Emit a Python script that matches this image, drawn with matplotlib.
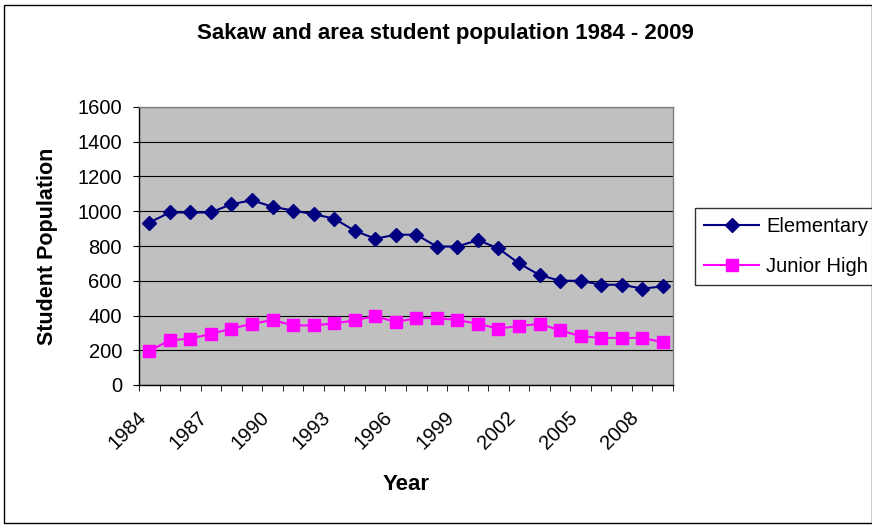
import matplotlib
matplotlib.use("Agg")
import matplotlib.pyplot as plt
from matplotlib.patches import Rectangle
from matplotlib.transforms import ScaledTranslation

plt.rcParams['font.family'] = ['Liberation Sans', 'DejaVu Sans']

years = list(range(1984, 2010))
elementary = [935, 993, 993, 993, 1041, 1063, 1026, 1004, 983, 958, 888, 842, 865,
              865, 797, 797, 834, 786, 700, 633, 600, 600, 577, 577, 555, 567]
junior_high = [197, 257, 267, 294, 325, 352, 374, 343, 343, 354, 372, 397, 362,
               385, 385, 374, 352, 325, 339, 352, 315, 281, 271, 271, 271, 246]
label_years = [1984, 1987, 1990, 1993, 1996, 1999, 2002, 2005, 2008]
y_ticks = [0, 200, 400, 600, 800, 1000, 1200, 1400, 1600]

W, H = 872, 527
fig = plt.figure(figsize=(W / 100, H / 100), dpi=100)
fig.patch.set_facecolor('white')
fig.patches.append(Rectangle((4 / W, 1 - 523 / H), 868 / W, 518 / H, transform=fig.transFigure,
                             fill=False, edgecolor='black', linewidth=1.0))

ax = fig.add_axes([139 / W, 1 - 385 / H, 534 / W, 278 / H])
ax.set_facecolor('#C0C0C0')
x = list(range(len(years)))

ax.plot(x, elementary, color='#000080', marker='D', markersize=7.2, linewidth=1.5, label='Elementary', zorder=3)
ax.plot(x, junior_high, color='#FF00FF', marker='s', markersize=8.5, linewidth=1.5, label='Junior High', zorder=3)

ax.set_xlim(-0.5, len(years) - 0.5)
ax.set_ylim(0, 1600)
ax.set_yticks(y_ticks)
ax.set_yticklabels([str(v) for v in y_ticks], fontsize=14.5)
ax.yaxis.grid(True, color='#000000', linewidth=0.8)
ax.set_axisbelow(True)

major = [years.index(y) for y in label_years]
ax.set_xticks(major)
ax.set_xticklabels([str(y) for y in label_years], rotation=45, ha='right', va='top',
                   rotation_mode='anchor', fontsize=14.5)
ax.tick_params(axis='x', which='major', length=0, pad=0)
offset = ScaledTranslation(-13 / 100, -23 / 100, fig.dpi_scale_trans)
for lab in ax.get_xticklabels():
    lab.set_transform(lab.get_transform() + offset)
ax.set_xticks([i - 0.5 for i in range(len(years) + 1)], minor=True)
ax.tick_params(axis='x', which='minor', length=4.3, direction='out', color='black')
ax.tick_params(axis='y', length=4.3, direction='out', color='black', pad=8)

for s in ['top', 'right']:
    ax.spines[s].set_color('#808080')
    ax.spines[s].set_linewidth(1.0)
for s in ['left', 'bottom']:
    ax.spines[s].set_color('black')
    ax.spines[s].set_linewidth(1.0)

fig.text(406 / W, 1 - 485 / H, 'Year', ha='center', va='center', fontsize=16, fontweight='bold')
fig.text(48 / W, 1 - 246.5 / H, 'Student Population', ha='center', va='center',
         rotation=90, fontsize=15.5, fontweight='bold')
fig.text(445 / W, 1 - 33 / H, 'Sakaw and area student population 1984 - 2009',
         ha='center', va='center', fontsize=16, fontweight='bold')

leg = fig.legend(loc='upper left', bbox_to_anchor=(695 / W, 1 - 208 / H), fontsize=14.5,
                 frameon=True, fancybox=False, edgecolor='black', handlelength=2.75,
                 borderpad=0.45, labelspacing=1.05, handletextpad=0.35, borderaxespad=0)
leg.get_frame().set_linewidth(1.0)

fig.savefig('out.png', dpi=100)
